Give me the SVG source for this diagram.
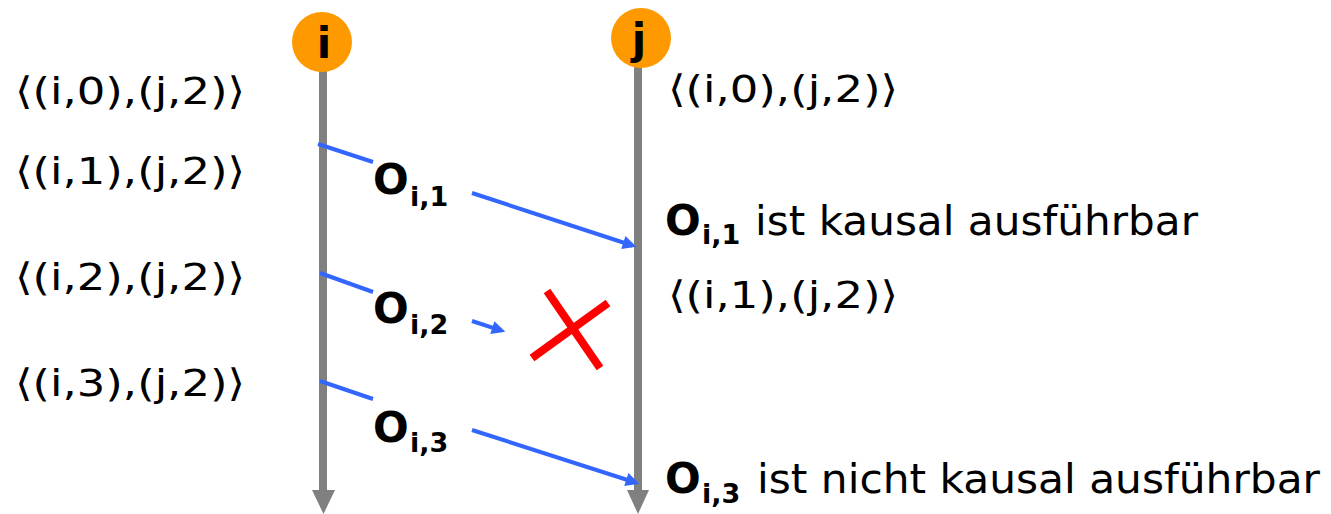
<svg xmlns="http://www.w3.org/2000/svg" width="1331" height="514" viewBox="0 0 1331 514">
<style>
.t{font-family:"DejaVu Sans","Liberation Sans",sans-serif;fill:#000}
.tup{font-size:38px}
.txt{font-size:41px}
.ob{font-family:"DejaVu Sans","Liberation Sans",sans-serif;font-weight:bold;font-size:42px;fill:#000}
.sb{font-family:"DejaVu Sans","Liberation Sans",sans-serif;font-weight:bold;font-size:27px;fill:#000}
.life{stroke:#808080;stroke-width:8;fill:none}
.head{fill:#808080}
.msg{stroke:#3366ff;stroke-width:4;fill:none}
.cross{stroke:#ff0000;stroke-width:8}
.proc{fill:#ff9900}
.pl{font-family:"DejaVu Sans","Liberation Sans",sans-serif;font-weight:bold;font-size:42px;fill:#000;text-anchor:middle}
</style>
<defs>
<marker id="ah" viewBox="0 0 10 10" refX="7" refY="5" markerWidth="4" markerHeight="3.4" orient="auto" markerUnits="strokeWidth">
<path d="M0,0 L10,5 L0,10 z" fill="#3366ff"/>
</marker>
</defs>
<g id="process-i">
<line class="life" x1="323" y1="70" x2="323" y2="492"/>
<polygon class="head" points="312,490 335,490 323.5,514"/>
<circle class="proc" cx="322" cy="42" r="30"/>
<text class="pl" x="324" y="58">i</text>
</g>
<g id="process-j">
<line class="life" x1="638" y1="66" x2="638" y2="492"/>
<polygon class="head" points="627,490 649,490 638,514"/>
<circle class="proc" cx="641" cy="38" r="30"/>
<text class="pl" x="639" y="54">j</text>
</g>
<g id="connectors">
<line class="msg" x1="318" y1="144" x2="373" y2="162"/>
<line class="msg" x1="472" y1="193" x2="632.4" y2="245.5" marker-end="url(#ah)"/>
<line class="msg" x1="320" y1="273" x2="373" y2="292"/>
<line class="msg" x1="472" y1="321" x2="501.4" y2="330.6" marker-end="url(#ah)"/>
<line class="msg" x1="320" y1="381" x2="373" y2="399"/>
<line class="msg" x1="472" y1="430" x2="635.4" y2="482.5" marker-end="url(#ah)"/>
</g>
<g id="label-o1"><text class="ob" x="373" y="194">O</text><text class="sb" x="410" y="206">i,1</text></g>
<g id="label-o2"><text class="ob" x="373" y="323">O</text><text class="sb" x="410" y="334">i,2</text></g>
<g id="label-o3"><text class="ob" x="373" y="442">O</text><text class="sb" x="410" y="452">i,3</text></g>
<g id="cross">
<line class="cross" x1="547" y1="291" x2="600" y2="368"/>
<line class="cross" x1="532" y1="358" x2="608" y2="303"/>
</g>
<g id="left-states">
<text class="t tup" x="15" y="104" textLength="230" lengthAdjust="spacingAndGlyphs">⟨(i,0),(j,2)⟩</text>
<text class="t tup" x="15" y="184" textLength="230" lengthAdjust="spacingAndGlyphs">⟨(i,1),(j,2)⟩</text>
<text class="t tup" x="15" y="290" textLength="230" lengthAdjust="spacingAndGlyphs">⟨(i,2),(j,2)⟩</text>
<text class="t tup" x="15" y="396" textLength="230" lengthAdjust="spacingAndGlyphs">⟨(i,3),(j,2)⟩</text>
</g>
<g id="right-state-0">
<text class="t tup" x="668" y="102" textLength="230" lengthAdjust="spacingAndGlyphs">⟨(i,0),(j,2)⟩</text>
</g>
<g id="right-o1">
<text class="ob" x="665" y="235">O</text><text class="sb" x="702" y="244">i,1</text>
<text class="t txt" x="755" y="235" textLength="443" lengthAdjust="spacingAndGlyphs">ist kausal ausführbar</text>
</g>
<g id="right-state-1">
<text class="t tup" x="668" y="308" textLength="230" lengthAdjust="spacingAndGlyphs">⟨(i,1),(j,2)⟩</text>
</g>
<g id="right-o3">
<text class="ob" x="665" y="493">O</text><text class="sb" x="702" y="503">i,3</text>
<text class="t txt" x="757" y="493" textLength="563" lengthAdjust="spacingAndGlyphs">ist nicht kausal ausführbar</text>
</g>
</svg>
